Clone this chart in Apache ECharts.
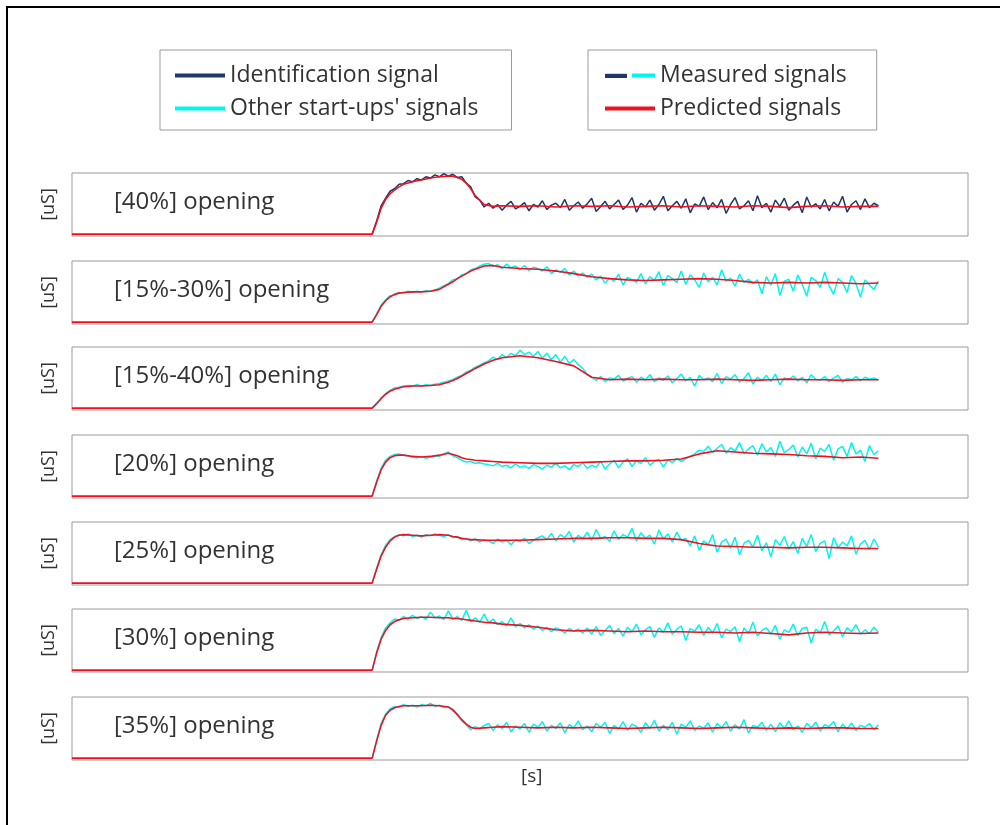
<!DOCTYPE html>
<html>
<head>
<meta charset="utf-8">
<script src="https://cdn.jsdelivr.net/npm/echarts@6/dist/echarts.min.js"></script>
<style>
  html, body { margin:0; padding:0; background:#fff; }
  #chart { width:1000px; height:825px; }
</style>
</head>
<body>
<div id="chart"></div>
<script>
// panel labels
var panelNames = ['[40%] opening','[15%-30%] opening','[15%-40%] opening','[20%] opening','[25%] opening','[30%] opening','[35%] opening'];

// measured signals, sampled every 0.5 from t=33.5
var mStart = 33.5, mStep = 0.5;
var m40 = [3,24,48,60,71,75,82,83,88,86,91,89,94,92,97,94,99,95,98,93,94,84,78,62,57,46,
  52,44,50,41,49,55,43,47,53,40,50,46,56,42,49,52,45,58,41,48,54,44,51,60,39,47,55,43,50,57,
  42,49,61,38,52,46,57,41,50,63,40,48,55,44,59,37,51,47,62,42,53,45,58,36,50,61,43,48,56,40,
  64,45,52,38,57,47,60,41,49,55,37,62,46,51,43,58,40,54,47,63,38,50,56,42,59,45,52,48];
var m1530 = [3,16,30,38,45,46,50,49,52,50,52,51,53,52,54,57,61,64,70,72,78,80,86,88,92,95,
  96,91,94,88,95,89,92,86,93,85,90,88,84,91,80,86,82,88,78,84,76,81,74,79,
  70,76,65,73,68,79,62,74,70,66,80,64,75,69,83,61,77,72,66,84,63,78,70,58,81,67,74,62,86,68,73,60,79,66,71,64,
  70,48,75,62,80,45,68,71,52,78,63,44,74,69,58,82,61,47,72,66,50,77,64,43,70,62,55,68];
var m1540 = [3,11,19,26,31,35,36,38,39,38,40,38,40,39,41,42,44,46,48,52,55,60,63,68,71,75,
  78,84,80,88,83,90,86,95,88,92,85,93,82,90,80,88,76,85,74,80,72,66,
  56,52,47,53,45,51,49,55,46,50,53,44,52,48,56,45,51,47,54,43,50,57,46,52,38,55,48,51,45,58,
  42,53,49,56,44,50,59,41,52,47,55,45,57,40,51,48,54,46,52,43,56,49,47,53,45,51,55,44,50,48,
  53,46,52,49,51,47];
var m20 = [3,27,47,60,66,69,70,68,67,65,64,66,63,65,67,66,70,73,67,64,60,57,58,55,56,54,
  53,51,55,50,52,48,54,49,51,47,53,50,46,52,49,55,48,51,45,53,50,56,47,52,49,58,46,54,
  60,48,57,62,50,59,55,64,52,58,61,49,60,56,63,58,62,66,
  70,76,74,82,72,79,85,71,80,74,88,70,78,83,68,86,73,80,66,90,72,77,84,65,81,70,87,62,79,74,
  85,60,78,82,66,88,70,76,58,83,69,75];
var m25 = [3,27,48,63,72,77,80,78,81,77,79,76,80,78,81,79,77,80,75,77,72,74,70,73,68,72,
  70,66,73,68,71,64,72,69,74,66,71,75,
  78,72,82,70,80,75,85,68,79,73,84,71,88,74,77,69,86,72,80,76,90,70,83,74,79,65,87,73,81,68,84,71,
  74,62,78,55,70,64,80,52,68,73,58,76,48,66,71,60,79,54,67,45,72,63,77,57,69,50,74,61,80,53,
  66,70,42,75,59,68,62,78,49,65,71,56,73,60];
var m30 = [3,32,55,70,78,84,82,88,84,90,85,88,84,95,86,89,83,97,84,88,82,98,80,86,79,92,
  78,84,75,80,73,86,72,77,70,75,68,73,66,71,64,70,67,62,69,65,
  68,62,70,60,72,58,66,74,61,69,57,71,64,76,59,67,72,55,70,63,78,60,68,73,50,69,65,75,58,71,
  62,77,54,68,64,72,48,70,61,79,57,66,70,60,74,52,67,63,76,58,69,71,46,68,62,80,59,65,73,56,
  70,64,75,60,67,61,71,63];
var m35 = [3,32,58,73,81,85,84,88,85,87,84,88,86,90,85,87,83,85,78,73,62,56,48,53,49,55,
  58,47,56,50,60,45,54,49,58,44,57,52,61,46,55,50,59,43,56,51,62,48,54,45,58,52,60,42,55,49,
  61,47,57,53,44,59,50,63,46,55,48,60,41,57,52,62,47,54,50,59,44,58,51,61,46,56,49,64,43,55,
  52,60,47,57,45,59,50,62,48,54,44,58,51,60,46,56,53,61,45,57,49,59,47,55,52,58,48,56];

// predicted signals on their own time grid
var pTime = [0,33.5,34,34.5,35,35.5,36,36.5,37,38,39,40,41,42,42.5,43,43.5,44,44.5,45,46,47,
  48,50,52,54,56,58,60,62,64,66,68,70,72,74,76,78,80,82,84,86,88,90];
var p40 = [3,3,22,44,58,67,73,78,82,86,89,92,94,95,95,93,90,84,75,64,50,47,
  48,47,48,46,48,47,48,46,47,48,46,48,47,46,48,47,45,47,48,46,47,47];
var p1530 = [3,3,15,28,37,43,47,49,50,51,51,52,55,63,67,72,76,80,84,87,92,93,
  90,88,87,84,80,75,72,70,69,70,71,72,71,69,66,65,66,65,66,65,64,65];
var p1540 = [3,3,10,18,25,30,33,35,37,38,38,39,40,44,47,50,54,58,62,66,73,79,
  83,86,83,77,70,52,48,49,48,49,48,48,49,48,47,48,49,48,48,47,48,48];
var p20 = [3,3,25,45,57,64,67,68,68,66,65,66,68,71,69,67,64,62,61,60,59,58,
  57,56,55,55,56,57,58,59,59,60,62,70,75,73,71,70,69,67,66,64,65,63];
var p25 = [3,3,25,46,60,70,76,79,80,79,78,79,80,79,77,76,74,73,72,72,71,71,
  71,71,72,73,74,74,75,75,74,74,72,66,62,61,60,60,59,60,60,59,58,58];
var p30 = [3,3,30,52,66,75,80,83,85,86,87,87,86,86,85,85,84,83,82,81,79,78,
  76,74,71,67,65,66,65,64,65,64,64,63,63,62,63,61,59,62,63,62,61,62];
var p35 = [3,3,30,55,71,79,83,85,86,86,86,87,86,84,80,72,64,57,52,50,51,52,
  53,52,51,52,51,52,51,50,51,52,51,50,51,52,51,50,51,50,51,51,50,50];

var measured = [m40, m1530, m1540, m20, m25, m30, m35];
var predicted = [p40, p1530, p1540, p20, p25, p30, p35];

var FONT = '"Open Sans"';
var navy = '#1f3868', cyan = '#00f5f0', red = '#f01020';
var tops = [173, 261, 347, 435, 522, 609, 697];
var boxH = 63;

var grids = [], xAxes = [], yAxes = [], titles = [], series = [];
for (var i = 0; i < 7; i++) {
  grids.push({ left: 72, right: 32, top: tops[i], height: boxH, show: true,
    borderColor: '#9a9a9a', borderWidth: 1, backgroundColor: 'transparent' });
  xAxes.push({ gridIndex: i, type: 'value', min: 0, max: 100,
    axisLine: {show:false}, axisTick: {show:false}, axisLabel: {show:false}, splitLine: {show:false} });
  yAxes.push({ gridIndex: i, type: 'value', min: 0, max: 100,
    axisLine: {show:false}, axisTick: {show:false}, axisLabel: {show:false}, splitLine: {show:false},
    name: '[uS]', nameLocation: 'middle', nameRotate: 90, nameGap: 14,
    nameTextStyle: { fontSize: 18, color: '#333', fontFamily: FONT } });
  titles.push({ text: panelNames[i], left: 114, top: tops[i] + 17, padding: 0,
    textStyle: { fontSize: 24, fontWeight: 'normal', color: '#333', fontFamily: FONT } });

  var md = measured[i].map(function (v, k) { return [mStart + k * mStep, v]; });
  var pd = predicted[i].map(function (v, k) { return [pTime[k], v]; });
  var mc = i === 0 ? navy : cyan;
  series.push({ name: i === 0 ? 'Identification signal' : "Other start-ups' signals",
    type: 'line', xAxisIndex: i, yAxisIndex: i, data: md, showSymbol: false, animation: false,
    itemStyle: {color: mc}, lineStyle: { color: mc, width: 1.5 }, z: 2 });
  series.push({ name: 'Predicted signals', type: 'line', xAxisIndex: i, yAxisIndex: i,
    data: pd, showSymbol: false, animation: false,
    itemStyle: {color: red}, lineStyle: { color: red, width: 1.6 }, z: 3 });
}
// legend-only entry for the measured pair
series.push({ name: 'Measured signals', type: 'line', xAxisIndex: 0, yAxisIndex: 0, data: [],
  itemStyle: {color: cyan}, lineStyle: {color: cyan} });

var legendText = { fontSize: 23, color: '#333', fontFamily: FONT };
var chart = echarts.init(document.getElementById('chart'));
chart.setOption({
  animation: false,
  title: titles,
  legend: [{
    data: ['Identification signal', "Other start-ups' signals"],
    orient: 'vertical', left: 160, top: 50, icon: 'rect', itemWidth: 50, itemHeight: 4, itemGap: 10,
    padding: [14, 33, 10, 15], borderColor: '#9a9a9a', borderWidth: 1, textStyle: legendText
  }, {
    data: ['Measured signals', 'Predicted signals'],
    orient: 'vertical', left: 588, top: 50, icon: 'rect', itemWidth: 50, itemHeight: 4, itemGap: 10,
    padding: [14, 30, 10, 17], borderColor: '#9a9a9a', borderWidth: 1, textStyle: legendText
  }],
  grid: grids,
  xAxis: xAxes,
  yAxis: yAxes,
  series: series,
  graphic: [
    { type: 'polyline', z: 100, shape: { points: [[7, 825], [7, 7], [1000, 7]] },
      style: { stroke: '#000', lineWidth: 2, fill: null } },
    // navy half of the measured legend icon
    { type: 'rect', z: 100, shape: { x: 605, y: 74, width: 22, height: 4 }, style: { fill: navy } },
    { type: 'rect', z: 100, shape: { x: 627, y: 73, width: 5, height: 6 }, style: { fill: '#fff' } },
    { type: 'text', z: 100, left: 521, top: 767,
      style: { text: '[s]', fontSize: 19, fill: '#333', fontFamily: FONT } }
  ]
});
</script>
</body>
</html>
